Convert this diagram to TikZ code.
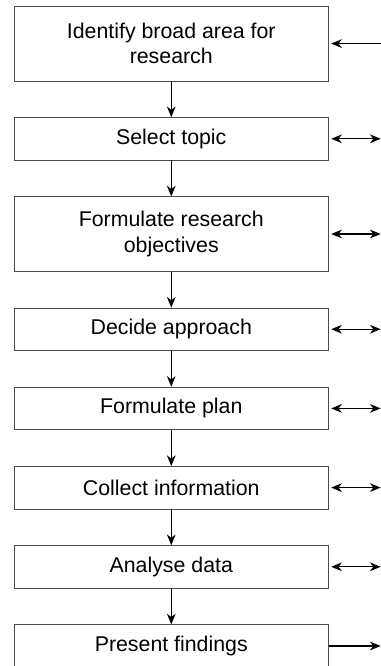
\documentclass[tikz,border=0pt]{standalone}
\usepackage{fontspec}
\setmainfont{Liberation Sans}
\usetikzlibrary{positioning, arrows.meta}
\newcommand{\boxwidth}{235.5pt}

\begin{document}
\begin{tikzpicture}[
      node distance = 27pt,
      font = \fontsize{16}{19}\selectfont,
      >={Stealth[length = 8pt, width = 6.5pt, inset = 2.5pt]},
      every node/.style = {draw = black!70, thin, align = center,
        minimum width = \boxwidth, minimum height = 32pt, inner sep = 2pt},
      tall/.style = {minimum height = 56pt},
      flow/.style = {->, line width = 0.8pt},
      side/.style = {<->, line width = 1pt, shorten <= 2pt},
      inward/.style = {->, line width = 1pt, shorten >= 2pt},
      outward/.style = {->, line width = 1pt}]

      \useasboundingbox (0,0) rectangle (285.75pt,-499.5pt);
      \coordinate (rim) at (285.5pt,0);

      \node [tall, anchor = north west] (identify) at (10.5pt,-4.5pt)
        {Identify broad area for\\research};
      \node [below = of identify] (select) {Select topic};
      \node [tall, below = of select] (objectives)
        {Formulate research\\objectives};
      \node [below = of objectives] (approach) {Decide approach};
      \node [below = of approach] (plan) {Formulate plan};
      \node [below = of plan] (collect) {Collect information};
      \node [below = of collect] (analyse) {Analyse data};
      \node [below = of analyse] (present) {Present findings};

      \draw [flow] (identify) -- (select);
      \draw [flow] (select) -- (objectives);
      \draw [flow] (objectives) -- (approach);
      \draw [flow] (approach) -- (plan);
      \draw [flow] (plan) -- (collect);
      \draw [flow] (collect) -- (analyse);
      \draw [flow] (analyse) -- (present);

      \draw [inward] (identify.east -| rim) -- (identify.east);
      \draw [side] (select.east) -- (select.east -| rim);
      \draw [side] (objectives.east) -- (objectives.east -| rim);
      \draw [side] (approach.east) -- (approach.east -| rim);
      \draw [side] (plan.east) -- (plan.east -| rim);
      \draw [side] (collect.east) -- (collect.east -| rim);
      \draw [side] (analyse.east) -- (analyse.east -| rim);
      \draw [outward] (present.east) -- (present.east -| rim);
  \end{tikzpicture}
\end{document}
